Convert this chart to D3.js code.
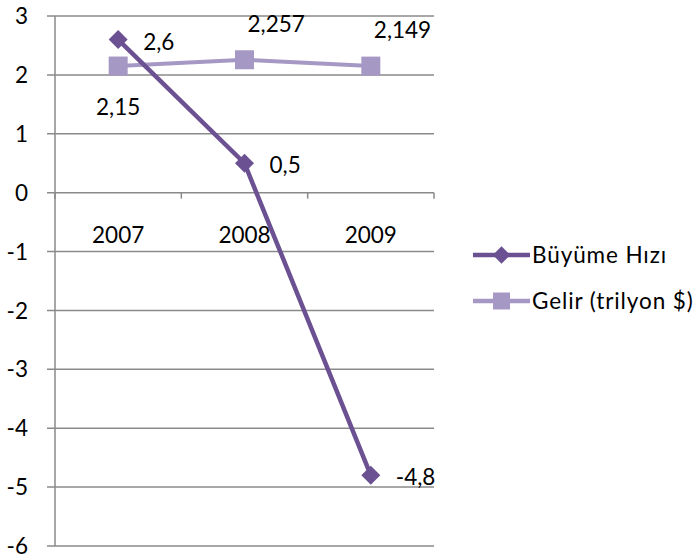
<!DOCTYPE html>
<html>
<head>
<meta charset="utf-8">
<script src="https://cdn.jsdelivr.net/npm/d3@7"></script>
<style>
  body { margin: 0; background: #fff; }
  text { font-family: Lato, "Open Sans", sans-serif; fill: #000; }
</style>
</head>
<body>
<div id="chart"></div>
<script>
const years = ["2007", "2008", "2009"];
const growth = [2.6, 0.5, -4.8];
const income = [2.15, 2.257, 2.149];
const growthLabels = ["2,6", "0,5", "-4,8"];
const incomeLabels = ["2,15", "2,257", "2,149"];
const yTicks = [3, 2, 1, 0, -1, -2, -3, -4, -5, -6];
const seriesNames = ["Büyüme Hızı", "Gelir (trilyon $)"];

const svgWidth = 695;
const svgHeight = 557;
const margin = { top: 16, left: 55, right: 261, bottom: 11 };
const width = svgWidth - margin.left - margin.right;
const height = svgHeight - margin.top - margin.bottom;

const fontSize = "22.5px";
const dark = "#6b5192";
const light = "#a698c4";
const gridColor = "#8a8a8a";

const svg = d3.select("#chart")
  .append("svg")
  .attr("width", svgWidth)
  .attr("height", svgHeight)
  .append("g")
  .attr("transform", `translate(${margin.left},${margin.top})`);

const x = d3.scaleBand()
  .domain(years)
  .range([0, width]);

const y = d3.scaleLinear()
  .domain([-6, 3])
  .range([height, 0]);

// gridlines + y axis
svg.append("g")
  .selectAll("line")
  .data(yTicks)
  .enter()
  .append("line")
  .attr("x1", -8)
  .attr("x2", width)
  .attr("y1", d => y(d))
  .attr("y2", d => y(d))
  .attr("stroke", gridColor)
  .attr("stroke-width", 1.5);

svg.append("line")
  .attr("x1", 0).attr("x2", 0)
  .attr("y1", y(3)).attr("y2", y(-6))
  .attr("stroke", gridColor)
  .attr("stroke-width", 1.5);

svg.append("g")
  .selectAll("text")
  .data(yTicks)
  .enter()
  .append("text")
  .attr("x", -27)
  .attr("y", d => y(d))
  .attr("dy", "0.36em")
  .attr("text-anchor", "end")
  .style("font-size", fontSize)
  .text(d => d);

// category axis at zero
const xTickPos = [0].concat(years.map(d => x(d) + x.bandwidth()));
svg.append("g")
  .selectAll("line")
  .data(xTickPos)
  .enter()
  .append("line")
  .attr("x1", d => d).attr("x2", d => d)
  .attr("y1", y(0)).attr("y2", y(0) + 6)
  .attr("stroke", gridColor)
  .attr("stroke-width", 1.5);

svg.append("g")
  .selectAll("text")
  .data(years)
  .enter()
  .append("text")
  .attr("x", d => x(d) + x.bandwidth() / 2)
  .attr("y", y(0) + 42)
  .attr("dy", "0.36em")
  .attr("text-anchor", "middle")
  .style("font-size", fontSize)
  .text(d => d);

const cx = (d, i) => x(years[i]) + x.bandwidth() / 2;

const line = d3.line()
  .x((d, i) => cx(d, i))
  .y(d => y(d));

// income series
svg.append("path")
  .datum(income)
  .attr("d", line)
  .attr("fill", "none")
  .attr("stroke", light)
  .attr("stroke-width", 4);

svg.append("g")
  .selectAll("rect")
  .data(income)
  .enter()
  .append("rect")
  .attr("x", (d, i) => cx(d, i) - 9.5)
  .attr("y", d => y(d) - 9.5)
  .attr("width", 19)
  .attr("height", 19)
  .attr("fill", light);

// growth series
svg.append("path")
  .datum(growth)
  .attr("d", line)
  .attr("fill", "none")
  .attr("stroke", dark)
  .attr("stroke-width", 4.5);

const diamond = d3.symbol().type(d3.symbolSquare).size(180);
svg.append("g")
  .selectAll("path")
  .data(growth)
  .enter()
  .append("path")
  .attr("d", diamond)
  .attr("transform", (d, i) => `translate(${cx(d, i)},${y(d)}) rotate(45)`)
  .attr("fill", dark);

// data labels
svg.append("g")
  .selectAll("text")
  .data(growth)
  .enter()
  .append("text")
  .attr("x", (d, i) => cx(d, i) + 25)
  .attr("y", d => y(d) + 2)
  .attr("dy", "0.36em")
  .style("font-size", fontSize)
  .text((d, i) => growthLabels[i]);

svg.append("g")
  .selectAll("text")
  .data(income)
  .enter()
  .append("text")
  .attr("x", (d, i) => i === 0 ? cx(d, i) : cx(d, i) + 3)
  .attr("y", (d, i) => i === 0 ? y(d) + 41 : y(d) - 36)
  .attr("dy", "0.36em")
  .attr("text-anchor", (d, i) => i === 0 ? "middle" : "start")
  .style("font-size", fontSize)
  .text((d, i) => incomeLabels[i]);

// legend
const legend = d3.select("svg").append("g")
  .attr("transform", "translate(473,255)");
const items = legend.selectAll("g")
  .data(seriesNames)
  .enter()
  .append("g")
  .attr("transform", (d, i) => `translate(0,${i * 46})`);

items.append("line")
  .attr("x1", 0).attr("x2", 57)
  .attr("stroke", (d, i) => i === 0 ? dark : light)
  .attr("stroke-width", 4.5);

items.append("path")
  .attr("d", (d, i) => i === 0
    ? d3.symbol().type(d3.symbolSquare).size(150)()
    : d3.symbol().type(d3.symbolSquare).size(289)())
  .attr("transform", (d, i) => `translate(28.5,0)` + (i === 0 ? " rotate(45)" : ""))
  .attr("fill", (d, i) => i === 0 ? dark : light);

items.append("text")
  .attr("x", 59)
  .attr("dy", "0.36em")
  .style("font-size", fontSize)
  .style("letter-spacing", "0.9px")
  .text(d => d);
</script>
</body>
</html>
